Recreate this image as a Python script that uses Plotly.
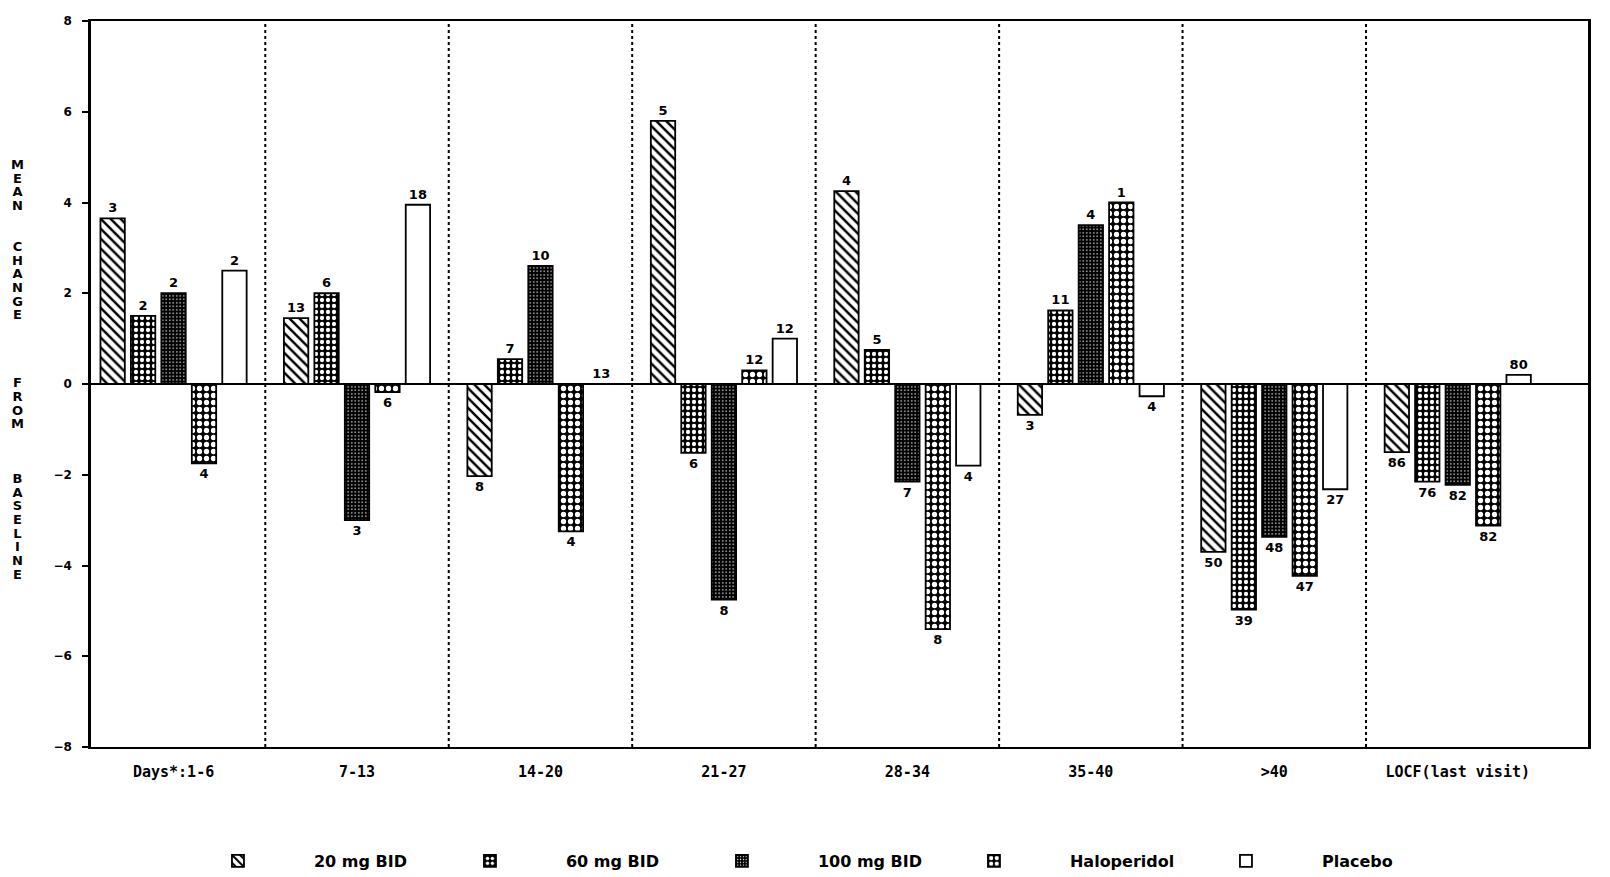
import plotly.graph_objects as go

# visit windows on the x axis
periods = ["Days*:1-6", "7-13", "14-20", "21-27", "28-34", "35-40", ">40", "LOCF(last visit)"]

# mean change from baseline per treatment
dose_20 = [3.65, 1.45, -2.03, 5.8, 4.25, -0.68, -3.7, -1.5]
dose_60 = [1.5, 2.0, 0.55, -1.52, 0.75, 1.62, -4.97, -2.15]
dose_100 = [2.0, -3.0, 2.6, -4.75, -2.15, 3.5, -3.37, -2.22]
haloperidol = [-1.75, -0.18, -3.25, 0.3, -5.4, 4.0, -4.23, -3.12]
placebo = [2.5, 3.95, 0.0, 1.0, -1.8, -0.27, -2.32, 0.2]

# number of patients printed at each bar
n_20 = [3, 13, 8, 5, 4, 3, 50, 86]
n_60 = [2, 6, 7, 6, 5, 11, 39, 76]
n_100 = [2, 3, 10, 8, 7, 4, 48, 82]
n_halo = [4, 6, 4, 12, 8, 1, 47, 82]
n_placebo = [2, 18, 13, 12, 4, 4, 27, 80]

y_ticks = [8, 6, 4, 2, 0, -2, -4, -6, -8]

series = [
    ("20 mg BID", dose_20, n_20, dict(shape="\\", fgcolor="black", bgcolor="white", size=7, solidity=0.35)),
    ("60 mg BID", dose_60, n_60, dict(shape=".", fgcolor="white", bgcolor="black", size=6, solidity=0.4)),
    ("100 mg BID", dose_100, n_100, dict(shape=".", fgcolor="white", bgcolor="black", size=3.5, solidity=0.15)),
    ("Haloperidol", haloperidol, n_halo, dict(shape=".", fgcolor="white", bgcolor="black", size=7, solidity=0.45)),
    ("Placebo", placebo, n_placebo, None),
]

fig = go.Figure()
for name, vals, counts, pattern in series:
    marker = dict(color="white", line=dict(color="black", width=1.8))
    if pattern:
        marker["pattern"] = dict(fillmode="replace", **pattern)
    fig.add_trace(
        go.Bar(
            x=periods,
            y=vals,
            name=name,
            marker=marker,
            text=[str(c) for c in counts],
            textposition="outside",
            constraintext="none",
            cliponaxis=False,
            textfont=dict(family="DejaVu Sans", size=13, color="black", weight="bold"),
        )
    )

# dotted separators between the visit windows
for k in range(len(periods) - 1):
    fig.add_shape(
        type="line", xref="x", yref="paper", x0=k + 0.5, x1=k + 0.5, y0=0, y1=1,
        line=dict(color="black", width=2, dash="dot"),
    )

# stacked upright letters, blank lines between the words
words = ["MEAN", "CHANGE", "FROM", "BASELINE"]
gaps = [2, 4, 3]
lines = ['<span style="font-size:13px">%s</span>' % c for c in words[0]]
for w, g in zip(words[1:], gaps):
    lines += [""] * g + ['<span style="font-size:13px">%s</span>' % c for c in w]
fig.add_annotation(
    text="<br>".join(lines), xref="paper", yref="paper", x=-0.0545, y=0.52, showarrow=False,
    font=dict(family="DejaVu Sans", size=10.5, color="black", weight="bold"),
    align="center",
)

# the page body adds an 8px offset, margins are set to compensate
fig.update_layout(
    width=1610,
    height=877,
    margin=dict(l=83, r=30, t=6, b=138),
    plot_bgcolor="white",
    paper_bgcolor="white",
    barmode="group",
    bargap=0.17,
    bargroupgap=0.2,
    showlegend=True,
    legend=dict(
        orientation="h", x=0.0474, y=-0.157, xanchor="left", yanchor="middle",
        font=dict(family="DejaVu Sans", size=16, color="black", weight="bold"),
        entrywidth=95, itemwidth=142, traceorder="normal",
    ),
    xaxis=dict(
        range=[-0.45, 7.71],
        showline=True, linecolor="black", linewidth=2, mirror=True,
        showgrid=False, ticks="",
        ticklabelstandoff=10,
        tickfont=dict(family="DejaVu Sans Mono", size=15, color="black", weight="bold"),
    ),
    yaxis=dict(
        range=[-8, 8],
        tickvals=y_ticks,
        showline=True, linecolor="black", linewidth=2.5, mirror=True,
        showgrid=False, ticks="outside", ticklen=6, tickwidth=2, tickcolor="black",
        ticklabelstandoff=8,
        zeroline=True, zerolinecolor="black", zerolinewidth=2,
        tickfont=dict(family="DejaVu Sans", size=12, color="black", weight="bold"),
    ),
)

fig.write_html("out.html")
